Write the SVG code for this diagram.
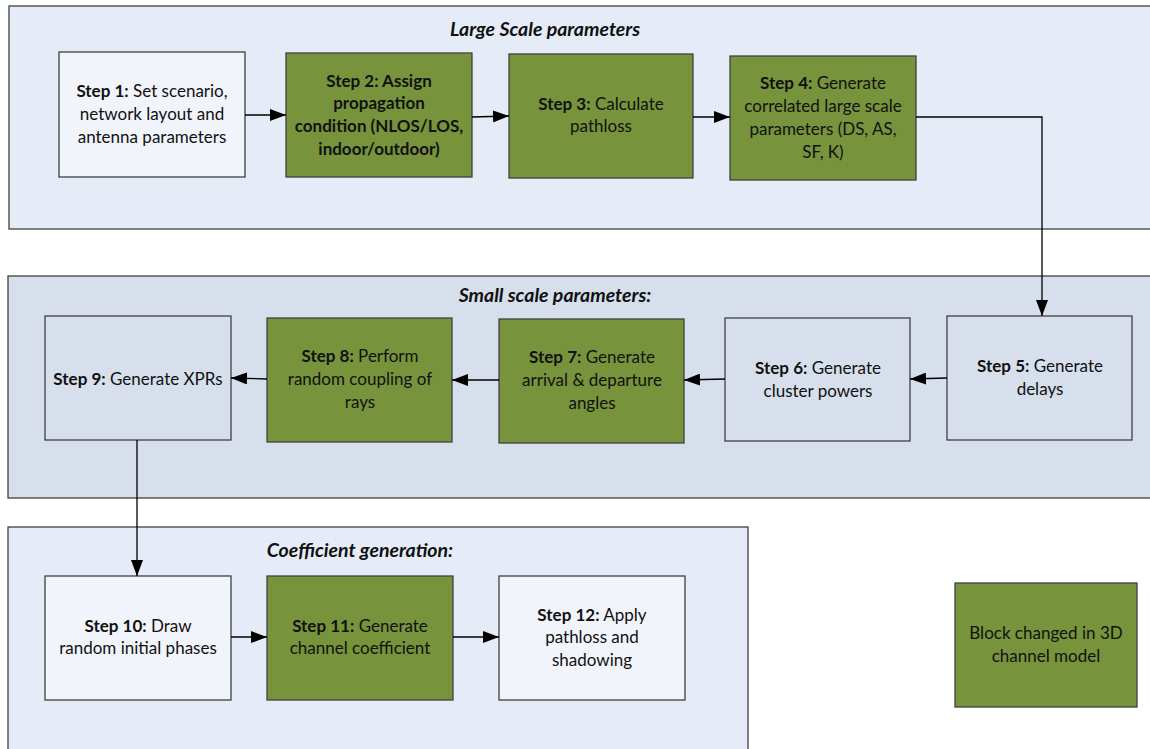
<svg xmlns="http://www.w3.org/2000/svg" width="1150" height="749" viewBox="0 0 1150 749">
<defs>
<marker id="ah" markerUnits="userSpaceOnUse" markerWidth="16" markerHeight="12" viewBox="0 0 16 12" refX="16" refY="6" orient="auto">
<path d="M0,0 L16,6 L0,12 z" fill="#000"/>
</marker>
</defs>
<style>
.panelA{fill:#E6ECF7;stroke:#404040;stroke-width:1.3}
.panelB{fill:#D6DFEB;stroke:#404040;stroke-width:1.3}
.w{fill:#F1F4FA;stroke:#404040;stroke-width:1.3}
.wb{fill:#D6DFEB;stroke:#404040;stroke-width:1.3}
.g{fill:#77933C;stroke:#404040;stroke-width:1.3}
text{font-family:Lato,"Liberation Sans",sans-serif;font-size:17px;fill:#111;text-anchor:middle}
.b{font-weight:bold}
.t{font-weight:bold;font-style:italic;font-size:19.5px}
.c{fill:none;stroke:#000;stroke-width:1.3;marker-end:url(#ah)}
</style>
<g id="panel-large">
<rect class="panelA" x="9" y="6" width="1150" height="223"/>
<text class="t" x="545" y="36">Large Scale parameters</text>
</g>
<g id="panel-small">
<rect class="panelB" x="8" y="276" width="1150" height="222"/>
<text class="t" x="555" y="302">Small scale parameters:</text>
</g>
<g id="panel-coef">
<rect class="panelA" x="8" y="527" width="740" height="230"/>
<text class="t" x="360" y="557">Coefficient generation:</text>
</g>
<g id="step1">
<rect class="w" x="59" y="52" width="186" height="125"/>
<text x="152" y="97"><tspan class="b">Step 1:</tspan> Set scenario,</text>
<text x="152" y="120">network layout and</text>
<text x="152" y="143">antenna parameters</text>
</g>
<g id="step2">
<rect class="g" x="286" y="53" width="186" height="124"/>
<text class="b" x="379" y="87">Step 2: Assign</text>
<text class="b" x="379" y="109">propagation</text>
<text class="b" x="379" y="132">condition (NLOS/LOS,</text>
<text class="b" x="379" y="155">indoor/outdoor)</text>
</g>
<g id="step3">
<rect class="g" x="509" y="54" width="184" height="124"/>
<text x="601" y="110"><tspan class="b">Step 3:</tspan> Calculate</text>
<text x="601" y="132">pathloss</text>
</g>
<g id="step4">
<rect class="g" x="730" y="56" width="186" height="124"/>
<text x="823" y="89"><tspan class="b">Step 4:</tspan> Generate</text>
<text x="823" y="112">correlated large scale</text>
<text x="823" y="135">parameters (DS, AS,</text>
<text x="823" y="158">SF, K)</text>
</g>
<g id="step5">
<rect class="wb" x="947" y="316" width="185" height="124"/>
<text x="1040" y="372"><tspan class="b">Step 5:</tspan> Generate</text>
<text x="1040" y="395">delays</text>
</g>
<g id="step6">
<rect class="wb" x="725" y="318" width="185" height="123"/>
<text x="818" y="374"><tspan class="b">Step 6:</tspan> Generate</text>
<text x="818" y="397">cluster powers</text>
</g>
<g id="step7">
<rect class="g" x="499" y="319" width="185" height="124"/>
<text x="592" y="363"><tspan class="b">Step 7:</tspan> Generate</text>
<text x="592" y="386">arrival &amp; departure</text>
<text x="592" y="409">angles</text>
</g>
<g id="step8">
<rect class="g" x="267" y="318" width="185" height="124"/>
<text x="360" y="362"><tspan class="b">Step 8:</tspan> Perform</text>
<text x="360" y="385">random coupling of</text>
<text x="360" y="408">rays</text>
</g>
<g id="step9">
<rect class="wb" x="45" y="316" width="186" height="124"/>
<text x="138" y="385"><tspan class="b">Step 9:</tspan> Generate XPRs</text>
</g>
<g id="step10">
<rect class="w" x="45" y="576" width="186" height="124"/>
<text x="138" y="632"><tspan class="b">Step 10:</tspan> Draw</text>
<text x="138" y="654">random initial phases</text>
</g>
<g id="step11">
<rect class="g" x="267" y="576" width="186" height="124"/>
<text x="360" y="632"><tspan class="b">Step 11:</tspan> Generate</text>
<text x="360" y="654">channel coefficient</text>
</g>
<g id="step12">
<rect class="w" x="499" y="576" width="186" height="124"/>
<text x="592" y="621"><tspan class="b">Step 12:</tspan> Apply</text>
<text x="592" y="643">pathloss and</text>
<text x="592" y="666">shadowing</text>
</g>
<g id="legend">
<rect class="g" x="955" y="583" width="182" height="124"/>
<text x="1046" y="639">Block changed in 3D</text>
<text x="1046" y="662">channel model</text>
</g>
<g id="connectors">
<path class="c" d="M245,115 L286,115"/>
<path class="c" d="M472,117 L509,116"/>
<path class="c" d="M693,117 L730,117"/>
<path class="c" d="M916,117 L1042,117 L1042,316"/>
<path class="c" d="M947,378 L910,379"/>
<path class="c" d="M725,379 L684,380"/>
<path class="c" d="M499,380 L452,380"/>
<path class="c" d="M267,379 L231,378"/>
<path class="c" d="M137,440 L137,576"/>
<path class="c" d="M231,637 L267,637"/>
<path class="c" d="M453,637 L499,637"/>
</g>
</svg>
